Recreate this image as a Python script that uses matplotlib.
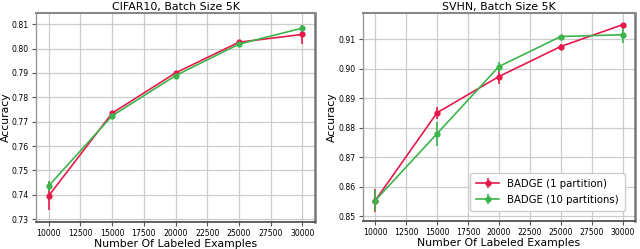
import matplotlib.pyplot as plt

x = [10000, 15000, 20000, 25000, 30000]

cifar_red = [0.7396, 0.7735, 0.7900, 0.8026, 0.8058]
cifar_red_err = [0.0060, 0.0006, 0.0005, 0.0004, 0.0040]
cifar_green = [0.7437, 0.7724, 0.7889, 0.8018, 0.8084]
cifar_green_err = [0.0020, 0.0006, 0.0006, 0.0004, 0.0012]

svhn_red = [0.8553, 0.8851, 0.8974, 0.9076, 0.9150]
svhn_red_err = [0.0038, 0.0020, 0.0027, 0.0010, 0.0003]
svhn_green = [0.8553, 0.8780, 0.9008, 0.9110, 0.9116]
svhn_green_err = [0.0035, 0.0041, 0.0017, 0.0003, 0.0027]

labels = ['BADGE (1 partition)', 'BADGE (10 partitions)']
red = '#e6194b'
green = '#3cb44b'

fig = plt.figure(figsize=(6.4, 2.49), dpi=100)
ax1 = fig.add_axes([0.0563, 0.108, 0.436, 0.84])
ax2 = fig.add_axes([0.567, 0.112, 0.425, 0.836])

panels = [
    (ax1, 'CIFAR10, Batch Size 5K', cifar_red, cifar_red_err, cifar_green, cifar_green_err),
    (ax2, 'SVHN, Batch Size 5K', svhn_red, svhn_red_err, svhn_green, svhn_green_err),
]

for ax, title, r, re_, g, ge in panels:
    ax.errorbar(x, r, yerr=re_, color=red, marker='o', markersize=3.5, linewidth=1.2,
                elinewidth=1.2, label=labels[0])
    ax.errorbar(x, g, yerr=ge, color=green, marker='o', markersize=3.5, linewidth=1.2,
                elinewidth=1.2, label=labels[1])
    ax.set_title(title, fontsize=7.9, pad=2)
    ax.set_xlabel('Number Of Labeled Examples', fontsize=7.8, labelpad=0.5)
    ax.set_ylabel('Accuracy', fontsize=7.8, labelpad=1)
    ax.set_xticks([10000, 12500, 15000, 17500, 20000, 22500, 25000, 27500, 30000])
    ax.tick_params(labelsize=5.6, length=3, width=0.8, color='#555555', pad=2)
    ax.grid(True, color='#cccccc', linewidth=0.9)
    ax.set_axisbelow(True)
    for s in ax.spines.values():
        s.set_color('#999999')
        s.set_linewidth(1.0)
    ax.spines['right'].set_color('#777777')
    ax.spines['right'].set_linewidth(1.8)
    ax.spines['bottom'].set_color('#444444')
    ax.spines['bottom'].set_linewidth(1.2)
    ax.spines['top'].set_color('#888888')
    ax.spines['top'].set_linewidth(1.5)

ax1.set_ylim(0.7288, 0.8146)
ax1.set_yticks([0.73, 0.74, 0.75, 0.76, 0.77, 0.78, 0.79, 0.80, 0.81])
ax2.set_ylim(0.8483, 0.919)
ax2.set_yticks([0.85, 0.86, 0.87, 0.88, 0.89, 0.90, 0.91])
ax2.legend(loc='lower right', fontsize=7.3, framealpha=1, handlelength=2.2,
           borderpad=0.6, labelspacing=0.6, borderaxespad=1.0)

fig.savefig('out.png')
